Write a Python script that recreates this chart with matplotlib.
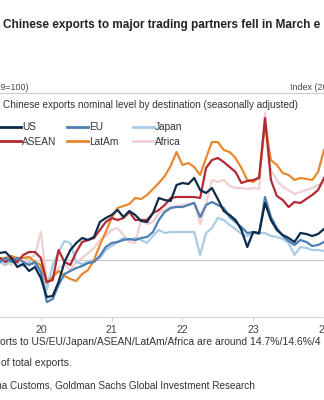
import numpy as np
import pandas as pd
import matplotlib
matplotlib.use("Agg")
import matplotlib.pyplot as plt
from matplotlib.lines import Line2D

# ---------------- data (index, 2019=100) ----------------
dates = pd.date_range("2019-06-01", "2024-01-01", freq="MS")

us = [103.5, 104, 101, 96.5, 98, 94.5, 96.5, 91, 81.5, 82, 89, 99, 105, 108.5, 111, 110,
      111.5, 119, 121, 122.5, 125, 121.5, 124.5, 122.5, 119.5, 119, 123.5, 131, 130, 129.5,
      137.5, 138.5, 138, 141, 135, 133.5, 136, 130.5, 124.5, 122.5, 120, 115, 106.5, 114,
      113.5, 128.5, 120, 115, 112.5, 111, 109, 113.5, 113, 112, 113, 115.5]
eu = [99, 101, 99, 101, 99, 97.5, 99, 94, 79, 80.5, 87.5, 93, 94.5, 96, 97, 98.5,
      99, 102, 106.5, 108.5, 109, 110, 110.5, 110, 111, 111.5, 114, 120, 124, 126,
      126.5, 126.5, 127.5, 128.5, 121.5, 127.5, 129, 127.5, 126, 121.5, 119, 116.5, 113.5, 114,
      113, 131.5, 121.5, 116, 112, 109.5, 107.5, 110, 109, 107, 107.5, 109]
japan = [99, 97.5, 100, 98.5, 97, 99, 97.5, 96, 85, 97.5, 104, 109.5, 108.5, 99, 98, 99,
         100, 101, 105, 107, 109, 111, 110, 111, 110, 108.5, 112, 115, 113.5, 114,
         114, 114, 114, 114, 102.5, 113.5, 116, 121, 120, 117.5, 115.5, 113, 112, 113.5,
         113.5, 113.5, 112, 111.5, 110.5, 108.5, 102.5, 106.5, 106, 105, 105, 104.5]
asean = [101, 99, 101, 99, 102.5, 104, 104, 101, 89, 90, 105, 99, 97.5, 104, 109, 110,
         111, 115, 119, 121, 120, 121, 124, 120, 120, 120, 123.5, 125, 127.5, 131,
         131.5, 131.5, 131.5, 131.5, 131, 146, 150, 151, 149, 146.5, 144, 138.5, 139.5, 140,
         141, 171, 140, 132, 130, 126.5, 129, 128.5, 130.5, 132.5, 135, 141]
latam = [101, 101, 102, 101, 101, 101.5, 99, 97.5, 88.5, 91.5, 94.5, 92, 90.5, 89.5, 93, 95,
         100, 107.5, 114, 121, 126, 127, 128, 131, 130.5, 132.5, 135.5, 138.5, 142, 147,
         154, 147.5, 148.5, 146.5, 142.5, 151, 159, 159, 155, 154, 151, 146, 140, 139,
         141.5, 167.5, 150, 147.5, 143.5, 142.5, 140, 141, 140.5, 140, 144, 155]
africa = [101, 99, 97.5, 101, 99, 101, 102.5, 114, 90, 91.5, 96, 97.5, 95, 99, 101, 103.5,
          106, 110, 112, 115, 116, 112.5, 109, 108.5, 120, 118, 119, 123.5, 125, 126.5,
          127, 127.5, 128, 128.5, 118, 127.5, 140, 139, 140, 137, 136, 136, 135.5, 136,
          135.5, 173.5, 145, 140, 136.5, 135, 133, 134, 135, 136, 137.5, 138.5]

series_names = ["US", "EU", "Japan", "ASEAN", "LatAm", "Africa"]
series_vals = [us, eu, japan, asean, latam, africa]
colors = {"US": "#0c2c4c", "EU": "#4d7fb3", "Japan": "#a9cce6",
          "ASEAN": "#b22a33", "LatAm": "#e8892f", "Africa": "#f0cfd0"}

tick_years = [2020, 2021, 2022, 2023, 2024]
tick_labels = ["20", "21", "22", "23", "24"]

# ---------------- figure ----------------
W, H = 324, 400
fig = plt.figure(figsize=(W / 100, H / 100), dpi=100)
fig.patch.set_facecolor("white")
renderer = fig.canvas.get_renderer()

FONT = ["Liberation Sans", "DejaVu Sans"]


def fx(px):
    return px / W


def fy(py):
    return 1 - py / H


def fit_size(s, target_px, weight="normal", base=8.0):
    t = fig.text(0, 0, s, fontsize=base, family=FONT, fontweight=weight)
    w = t.get_window_extent(renderer=renderer).width
    t.remove()
    return base * target_px / w


# axes area (pixels): top 97, bottom 317
ax = fig.add_axes([0, fy(317), 1, (317 - 97) / H])
xdec = dates.year + (dates.month - 1) / 12.0

ax.axhline(100, color="#c9c9c9", lw=0.9, zorder=1)

draw_order = ["Africa", "Japan", "LatAm", "ASEAN", "EU", "US"]
lines = {}
for name in draw_order:
    vals = series_vals[series_names.index(name)]
    (ln,) = ax.plot(xdec, vals, color=colors[name], lw=1.6, solid_joinstyle="round",
                    zorder=2, label=name)
    lines[name] = ln

ax.set_xlim(2020 - 41 / 71, 2024.0 - 1 / 71)
ax.set_ylim(71.5, 181.5)
ax.set_xticks(tick_years)
ax.set_xticklabels(tick_labels, fontsize=7.6, color="#444444", family=FONT)
ax.tick_params(axis="x", length=3, color="#d0d0d0", pad=2.5)
ax.set_yticks([])
for s in ["top", "left", "right"]:
    ax.spines[s].set_visible(False)
ax.spines["bottom"].set_color("#d6d6d6")
ax.spines["bottom"].set_linewidth(0.8)
ax.set_facecolor("none")

# ---------------- texts ----------------
title = "Chinese exports to major trading partners fell in March e"
fig.text(fx(3), fy(25), title, fontsize=fit_size(title, 320, "bold"),
         fontweight="bold", color="#222222", family=FONT, ha="left", va="center")

isz = fit_size("9=100)", 28)
fig.text(fx(28), fy(87), "Index (2019=100)", fontsize=isz, color="#444444",
         family=FONT, ha="right", va="center")
fig.text(fx(290), fy(87), "Index (2019=100)", fontsize=isz, color="#444444",
         family=FONT, ha="left", va="center")
fig.add_artist(Line2D([0, 1], [fy(93), fy(93)], color="#cccccc", lw=0.8,
                      transform=fig.transFigure))
sub = "Chinese exports nominal level by destination (seasonally adjusted)"
fig.text(fx(3), fy(105), sub, fontsize=fit_size(sub, 299), color="#333333",
         family=FONT, ha="left", va="center")

# legend: three columns
cols = [("US", "ASEAN", 0), ("EU", "LatAm", 67), ("Japan", "Africa", 133)]
lsz = fit_size("ASEAN", 34)
for a, b, x0 in cols:
    lg = fig.legend([lines[a], lines[b]], [a, b], loc="center left",
                    bbox_to_anchor=(fx(x0), fy(134.5)), frameon=False,
                    prop={"family": FONT, "size": lsz}, handlelength=2.1,
                    handletextpad=0.1, labelspacing=0.45, borderpad=0,
                    borderaxespad=0)
    for t in lg.get_texts():
        t.set_color("#333333")
    for h in lg.legend_handles:
        h.set_linewidth(2.0)

note1 = "orts to US/EU/Japan/ASEAN/LatAm/Africa are around 14.7%/14.6%/4"
nsz = fit_size(note1, 323)
fig.text(fx(0), fy(342), note1, fontsize=nsz, color="#333333",
         family=FONT, ha="left", va="center")
fig.text(fx(1), fy(363), "of total exports.", fontsize=nsz, color="#333333",
         family=FONT, ha="left", va="center")
src_vis = "a Customs, Goldman Sachs Global Investment Research"
ssz = fit_size(src_vis, 255)
fig.text(fx(255), fy(385), "Source: China Customs, Goldman Sachs Global Investment Research",
         fontsize=ssz, color="#333333", family=FONT, ha="right", va="center")

fig.savefig("out.png", dpi=100, facecolor="white")
